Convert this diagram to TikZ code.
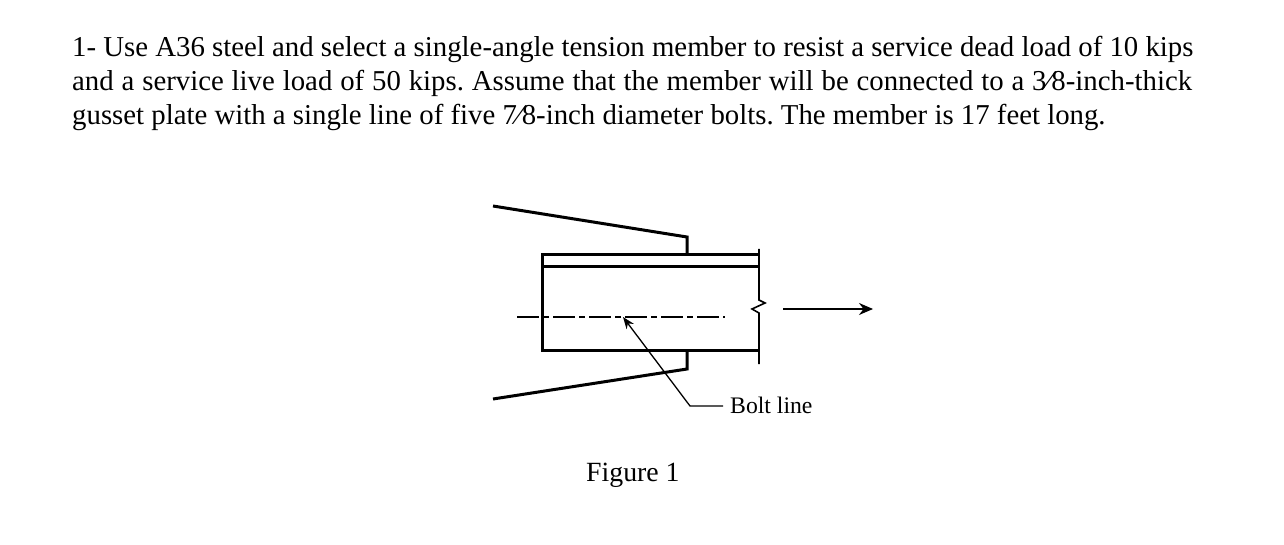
\documentclass[tikz,border=0pt]{standalone}
\usepackage{fontspec}
\setmainfont{Liberation Serif}
\usetikzlibrary{arrows.meta}
\tikzset{
	thick line/.style={line width =3pt},
	thin line/.style={line width =1.6pt},
	body text/.style={anchor=base west,inner sep=0pt,font=\fontsize{28.8}{28.8}\selectfont\frenchspacing},
	fig text/.style={anchor=base west,inner sep=0pt,font=\fontsize{27.8}{27.8}\selectfont},
	label text/.style={anchor=base west,inner sep=0pt,font=\fontsize{23.7}{23.7}\selectfont},
}
\begin{document}
\begin{tikzpicture}[x=1pt,y=-1pt]
		\useasboundingbox (0,0) rectangle (1284,545);
		\node [body text] (lineA) at (72,56.5) {1- Use A36 steel and select a single-angle tension member to resist a service dead load of 10 kips};
		\node [body text] (lineB) at (72,90.5) {\spaceskip=7.87pt and a service live load of 50 kips. Assume that the member will be connected to a 3⁄8-inch-thick};
		\node [body text] (lineC) at (72,124.5) {gusset plate with a single line of five 7⁄8-inch diameter bolts. The member is 17 feet long.};
		\node [label text] (boltlabel) at (730,413.5) {Bolt line};
		\node [fig text] (figlabel) at (586,481) {Figure 1};
		\coordinate (gtA) at (493,206);
		\coordinate (gtB) at (687,237);
		\coordinate (gtC) at (687,254);
		\coordinate (gbA) at (493,399);
		\coordinate (gbB) at (687,369);
		\coordinate (gbC) at (687,351);
		\coordinate (mTL) at (542.5,254.5);
		\coordinate (mTR) at (759,254.5);
		\coordinate (mIL) at (542.5,266.5);
		\coordinate (mIR) at (759,266.5);
		\coordinate (mBL) at (542.5,350.5);
		\coordinate (mBR) at (759,350.5);
		\coordinate (clA) at (517,317);
		\coordinate (clB) at (725,317);
		\coordinate (loadA) at (783,309);
		\coordinate (loadB) at (873,309);
		\coordinate (tipA) at (623,317);
		\coordinate (kneeA) at (690,406);
		\draw [thick line] (gtA)--(gtB)--(gtC); %top gusset
		\draw [thick line] (gbA)--(gbB)--(gbC); %bottom gusset
		\draw [thick line,line join=miter] (mTR)--(mTL)--(mBL)--(mBR); %member
		\draw [thick line] (mIL)--(mIR); %angle leg
		\draw [thin line] (759,249)--(759,300)--(765,303)--(752,309)--(759,313)--(759,364); %break line
		\draw [thin line,dash pattern=on 22pt off 4pt on 6pt off 4pt] (clA)--(clB); %bolt line
		\draw [thin line,-{Stealth[length=14pt,width=12pt]}] (loadA)--(loadB); %load
		\draw [line width =1.3pt,-{Stealth[length=12pt,width=9pt]}] (boltlabel.west |- kneeA) ++(-7,0)--(kneeA)--(tipA); %leader
	\end{tikzpicture}
\end{document}
